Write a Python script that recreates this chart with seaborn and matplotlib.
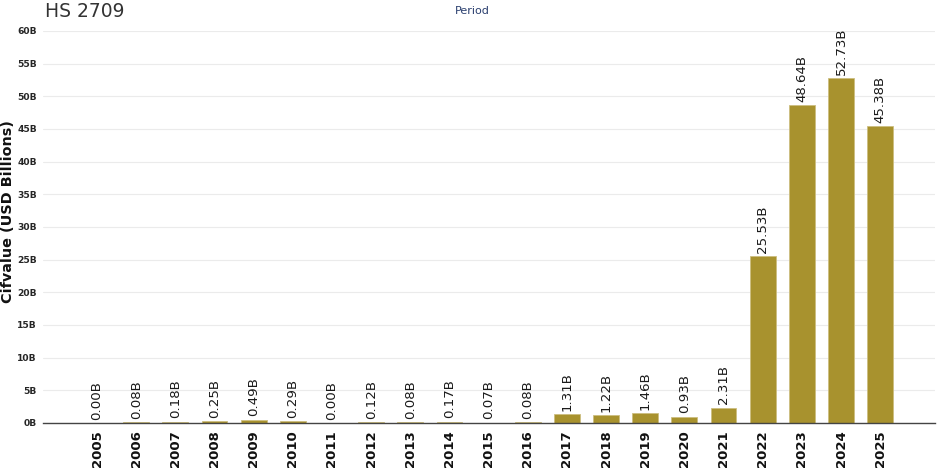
import matplotlib
matplotlib.use("Agg")
import matplotlib.pyplot as plt
import seaborn as sns
import pandas as pd

years = [str(y) for y in range(2005, 2026)]
values_b = [0.00, 0.08, 0.18, 0.25, 0.49, 0.29, 0.00, 0.12, 0.08, 0.17, 0.07,
            0.08, 1.31, 1.22, 1.46, 0.93, 2.31, 25.53, 48.64, 52.73, 45.38]
y_ticks = list(range(0, 61, 5))
y_tick_labels = [f"{t}B" for t in y_ticks]

df = pd.DataFrame({"Period": years, "Value": values_b})

sns.set_theme(style="white")
plt.rcParams['font.family'] = ['DejaVu Sans']

fig = plt.figure(figsize=(9.41, 4.68), dpi=100)
ax = fig.add_axes([0.0457, 0.0962, 0.9479, 0.8376])

bar_color = "#A8922E"
sns.barplot(data=df, x="Period", y="Value", color=bar_color, saturation=1,
            width=0.66, edgecolor="#CDBE80", linewidth=0.6, ax=ax)

for i, v in enumerate(values_b):
    ax.annotate(f"{v:.2f}B", (i, v), xytext=(0, 2.5), textcoords="offset points",
                rotation=90, ha="center", va="bottom", fontsize=9.6, color="#1a1a1a")

ax.set_ylim(0, 60)
ax.set_xlim(-1.38, 21.4)
ax.set_yticks(y_ticks)
ax.set_yticklabels(y_tick_labels, fontsize=6.6, fontweight="bold")
ax.tick_params(axis="y", length=3, width=0.6, color="#cccccc", pad=1.5)
ax.tick_params(axis="x", length=3, width=0.6, color="#555555", pad=2)
for lab in ax.get_xticklabels():
    lab.set_rotation(90)
    lab.set_fontsize(9.5)
    lab.set_fontweight("bold")
    lab.set_color("#111111")

ax.yaxis.grid(True, color="#ebebeb", linewidth=0.8)
ax.set_axisbelow(True)
for s in ["top", "right", "left"]:
    ax.spines[s].set_visible(False)
ax.spines["bottom"].set_color("#444444")
ax.spines["bottom"].set_linewidth(1.0)

ax.set_xlabel("")
ax.set_ylabel("Cifvalue (USD Billions)", fontsize=10.4, fontweight="bold", color="#111111")
ax.yaxis.set_label_coords(-0.0315, 0.54)

fig.text(0.048, 0.975, "HS 2709", fontsize=13.5, color="#333333", ha="left", va="center")
fig.text(0.502, 0.977, "Period", fontsize=8, color="#2a3f6f", ha="center", va="center")

fig.savefig("out.png", dpi=100)
